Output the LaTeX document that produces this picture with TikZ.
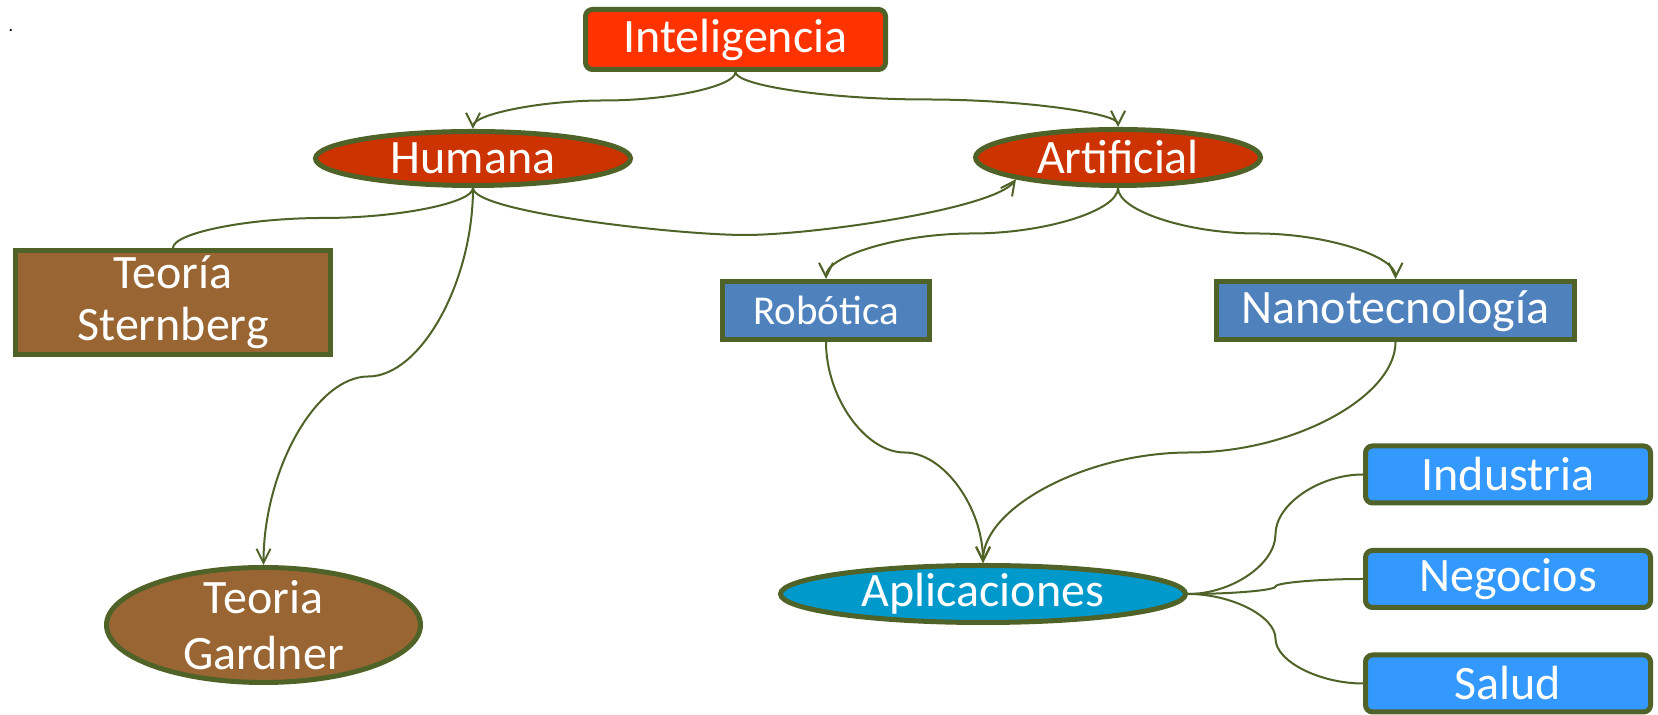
\documentclass[tikz,border=0pt]{standalone}
\usepackage{fontspec}
\setmainfont{Carlito}
\usepackage{xcolor}
\usepackage{tikz}
\usetikzlibrary{shapes,arrows,positioning,calc,arrows.meta}

\definecolor{borderolive}{HTML}{4F6228}
\definecolor{intelred}{HTML}{FF3300}
\definecolor{rustred}{HTML}{CC3300}
\definecolor{theorybrown}{HTML}{996633}
\definecolor{techblue}{HTML}{4F81BD}
\definecolor{appcyan}{HTML}{0099CC}
\definecolor{areablue}{HTML}{3399FF}

\begin{document}
\begin{tikzpicture}[x=0.5pt, y=0.5pt,
    box/.style={draw=borderolive, line width=2.5pt, text=white, align=center, inner sep=0pt,
                font=\fontsize{24}{26}\selectfont},
    oval/.style={box, ellipse, inner ysep=-2pt},
    link/.style={draw=borderolive, line width=1pt},
    vcurve/.style={to path={let \p1=(\tikztostart), \p2=(\tikztotarget) in
        .. controls (\x1,{0.75*\y1+0.25*\y2}) and ({0.75*\x1+0.25*\x2},{0.5*\y1+0.5*\y2})
        .. ({0.5*\x1+0.5*\x2},{0.5*\y1+0.5*\y2})
        .. controls ({0.25*\x1+0.75*\x2},{0.5*\y1+0.5*\y2}) and (\x2,{0.25*\y1+0.75*\y2})
        .. (\x2,\y2) \tikztonodes}},
    hcurve/.style={to path={let \p1=(\tikztostart), \p2=(\tikztotarget) in
        .. controls ({0.75*\x1+0.25*\x2},\y1) and ({0.5*\x1+0.5*\x2},{0.75*\y1+0.25*\y2})
        .. ({0.5*\x1+0.5*\x2},{0.5*\y1+0.5*\y2})
        .. controls ({0.5*\x1+0.5*\x2},{0.25*\y1+0.75*\y2}) and ({0.25*\x1+0.75*\x2},\y2)
        .. (\x2,\y2) \tikztonodes}},
    >={Straight Barb[length=7pt,width=7pt]}]
    \useasboundingbox (0,0) rectangle (1658,715);

    % Top
    \node (dot) at (11,684) {\fontsize{9}{10}\selectfont .};
    \node[box, fill=intelred, rounded corners=3.5pt, minimum width=150pt, minimum height=30pt] (intel) at (735.5,675.5) {Inteligencia};
    \node[oval, fill=rustred, minimum width=157.5pt, minimum height=27pt] (hum) at (473,556.5) {Humana};
    \node[oval, fill=rustred, minimum width=142.5pt, minimum height=28pt] (art) at (1118,557.5) {Artificial};

    % Human side
    \node[box, fill=theorybrown, minimum width=157.5pt, minimum height=52pt] (stern) at (173,412.5) {Teoría\\Sternberg};
    \node[oval, fill=theorybrown, inner ysep=-5pt, minimum width=157pt, minimum height=57.5pt, font=\fontsize{24}{28}\selectfont] (gard) at (263.5,90) {Teoria\\Gardner};

    % Artificial side
    \node[box, fill=techblue, minimum width=103.5pt, minimum height=29pt, font=\fontsize{20.5}{24}\selectfont] (robo) at (826,404.5) {Robótica};
    \node[box, fill=techblue, minimum width=179pt, minimum height=29pt] (nano) at (1395.5,404.5) {Nanotecnología};
    \node[oval, fill=appcyan, minimum width=202.5pt, minimum height=28.5pt] (apl) at (983,121) {Aplicaciones};
    \node[box, fill=areablue, rounded corners=3.5pt, minimum width=142.5pt, minimum height=28.5pt] (ind) at (1508,240.5) {Industria};
    \node[box, fill=areablue, rounded corners=3.5pt, minimum width=142.5pt, minimum height=28.5pt] (neg) at (1508,136) {Negocios};
    \node[box, fill=areablue, rounded corners=3.5pt, minimum width=142.5pt, minimum height=28.5pt] (sal) at (1508,31.5) {Salud};

    % Connectors
    \coordinate (dip) at (745,480);
    \draw[link,->] (intel.south) to[vcurve] (hum.north);
    \draw[link,->] (intel.south) to[vcurve] (art.north);
    \draw[link] (hum.south) to[vcurve] (stern.north);
    \draw[link,->] (hum.south) to[vcurve] (gard.north);
    \draw[link,->] (hum.south) .. controls +(0,-24) and +(-68,0) .. (dip)
        .. controls +(68,0) and +(-22,-30) .. (art.192);
    \draw[link,->] (art.south) to[vcurve] (robo.north);
    \draw[link,->] (art.south) to[vcurve] (nano.north);
    \draw[link,->] (robo.south) to[vcurve] (apl.north);
    \draw[link,->] (nano.south) to[vcurve] (apl.north);
    \draw[link] (apl.east) to[hcurve] (ind.west);
    \draw[link] (apl.east) to[hcurve] (neg.west);
    \draw[link] (apl.east) to[hcurve] (sal.west);
\end{tikzpicture}
\end{document}
